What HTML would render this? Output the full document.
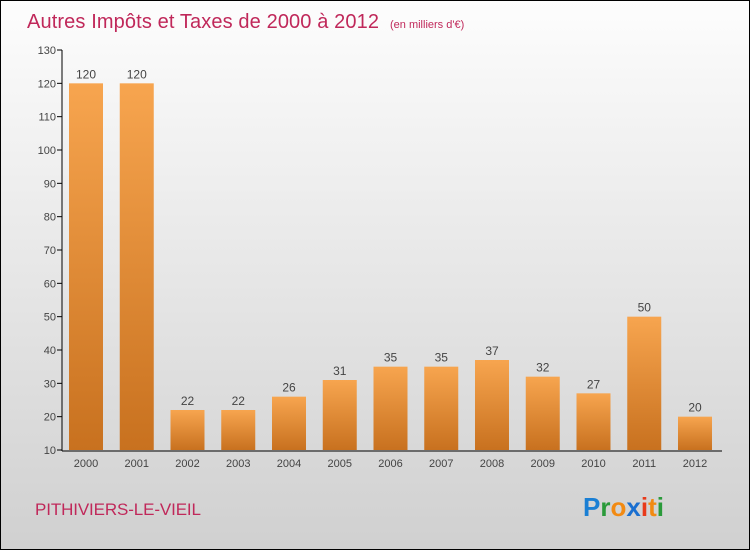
<!DOCTYPE html>
<html><head><meta charset="utf-8"><style>
body{margin:0;}
#wrap{width:748px;height:548px;border:1px solid #000;background:linear-gradient(#fdfdfd,#d0d0d0);position:relative;font-family:"Liberation Sans",sans-serif;}
</style></head><body>
<div id="wrap">
<svg id="c" width="748" height="548" xmlns="http://www.w3.org/2000/svg">
<defs><linearGradient id="bg" x1="0" y1="0" x2="0" y2="1"><stop offset="0" stop-color="#f7a54f"/><stop offset="1" stop-color="#c8711f"/></linearGradient></defs>
<text x="26" y="27" font-size="20" fill="#c0285a" textLength="352">Autres Impôts et Taxes de 2000 à 2012</text>
<text x="389" y="27" font-size="11" fill="#c0285a">(en milliers d'€)</text>
<text x="34" y="514" font-size="17" fill="#c0285a" textLength="166">PITHIVIERS-LE-VIEIL</text>
<g font-size="26" font-weight="bold" font-family="Liberation Sans, sans-serif">
<text x="582" y="515"><tspan fill="#1a7fd4">P</tspan><tspan fill="#2a9a3a">r</tspan><tspan fill="#f28a12">o</tspan><tspan fill="#1a6fd0">x</tspan><tspan fill="#e83a1a">i</tspan><tspan fill="#f28a12">t</tspan><tspan fill="#2a9a3a">i</tspan></text></g>
<g id="plot"></g>
</svg></div>
<script>
const categories=["2000","2001","2002","2003","2004","2005","2006","2007","2008","2009","2010","2011","2012"];
const values=[120,120,22,22,26,31,35,35,37,32,27,50,20];
const ticks=[10,20,30,40,50,60,70,80,90,100,110,120,130];
const NS="http://www.w3.org/2000/svg";
const g=document.getElementById('plot');
const y=v=>449-(v-10)*400/120;
const x=i=>85+i*50.75;
function mk(t,a,txt){const e=document.createElementNS(NS,t);for(const k in a)e.setAttribute(k,a[k]);if(txt!==undefined)e.textContent=txt;g.appendChild(e);return e;}
ticks.forEach(t=>{
 const l=mk('line',{x1:56,x2:61,y1:y(t),y2:y(t),stroke:'#000'});
 
 
 const tx=mk('text',{x:55,y:y(t)+4,'font-size':11,'text-anchor':'end',fill:'#444'},t);
 
 
});
values.forEach((v,i)=>{
 const r=mk('rect',{x:x(i)-17,y:y(v),width:34,height:y(10)-y(v),fill:'url(#bg)'});
 
 
 const vl=mk('text',{x:x(i),y:y(v)-5,'font-size':12,'text-anchor':'middle',fill:'#444'},v);
 
 
 const cl=mk('text',{x:x(i),y:466,'font-size':11,'text-anchor':'middle',fill:'#444'},categories[i]);
 
 
});
const ya=mk('line',{x1:61,x2:61,y1:y(130),y2:450,stroke:'#000'});


const xa=mk('line',{x1:61,x2:721,y1:450,y2:450,stroke:'#000'});


</script>
</body></html>
